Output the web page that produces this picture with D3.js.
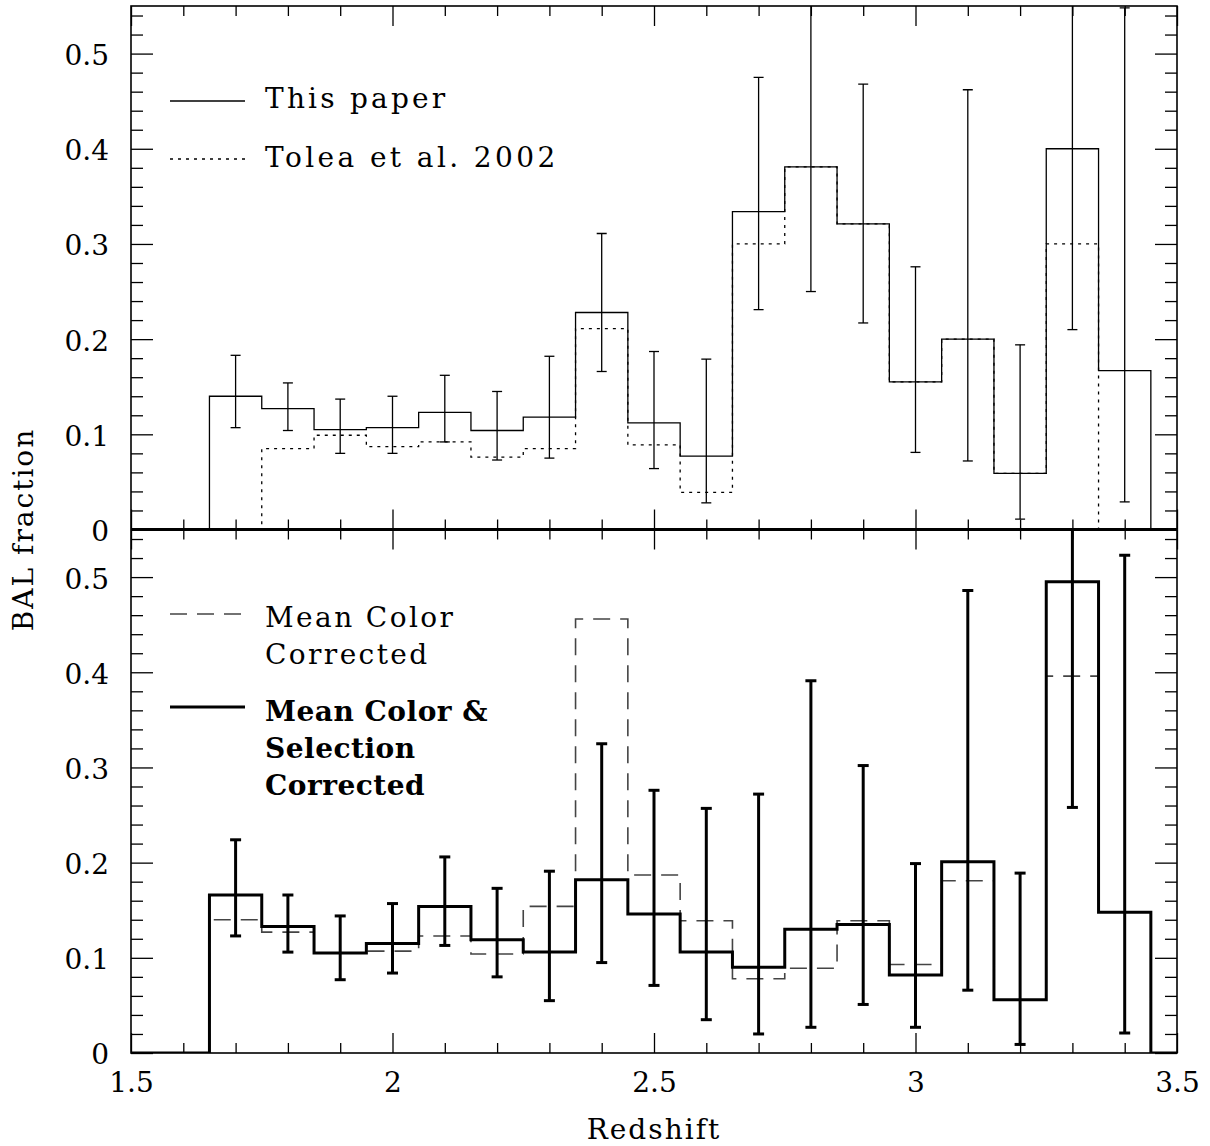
<!DOCTYPE html>
<html>
<head>
<meta charset="utf-8">
<script src="https://cdn.jsdelivr.net/npm/d3@7"></script>
<style>
  body { margin: 0; background: #fff; }
  svg { display: block; }
  text { font-family: "DejaVu Serif", serif; fill: #000; }
</style>
</head>
<body>
<div id="chart"></div>
<script>
// redshift bins (centres), width 0.1
const binCenters = [1.7, 1.8, 1.9, 2.0, 2.1, 2.2, 2.3, 2.4, 2.5, 2.6, 2.7, 2.8, 2.9, 3.0, 3.1, 3.2, 3.3, 3.4];

// top panel
const thisPaper   = [0.140, 0.127, 0.105, 0.107, 0.123, 0.104, 0.118, 0.228, 0.112, 0.077, 0.334, 0.381, 0.321, 0.155, 0.200, 0.059, 0.400, 0.167];
const thisPaperLo = [0.107, 0.104, 0.080, 0.080, 0.092, 0.073, 0.075, 0.166, 0.064, 0.028, 0.231, 0.250, 0.217, 0.081, 0.072, 0.011, 0.210, 0.029];
const thisPaperHi = [0.183, 0.154, 0.137, 0.140, 0.162, 0.145, 0.182, 0.311, 0.187, 0.179, 0.475, 0.600, 0.468, 0.276, 0.462, 0.194, 0.600, 0.548];
const tolea       = [0.000, 0.085, 0.099, 0.087, 0.092, 0.076, 0.085, 0.211, 0.089, 0.039, 0.300, 0.381, 0.321, 0.155, 0.200, 0.059, 0.300, 0.000];

// bottom panel
const meanColor  = [0.140, 0.127, 0.105, 0.107, 0.123, 0.104, 0.154, 0.456, 0.187, 0.139, 0.078, 0.089, 0.139, 0.093, 0.181, 0.056, 0.396, 0.148];
const colorSel   = [0.166, 0.133, 0.105, 0.115, 0.154, 0.119, 0.106, 0.182, 0.146, 0.106, 0.090, 0.130, 0.135, 0.082, 0.201, 0.056, 0.495, 0.148];
const colorSelLo = [0.123, 0.106, 0.077, 0.084, 0.113, 0.080, 0.055, 0.095, 0.071, 0.035, 0.020, 0.027, 0.051, 0.027, 0.066, 0.009, 0.258, 0.021];
const colorSelHi = [0.224, 0.166, 0.144, 0.157, 0.206, 0.173, 0.191, 0.325, 0.276, 0.257, 0.272, 0.391, 0.302, 0.199, 0.486, 0.189, 0.600, 0.523];

const xTicks = [1.5, 2, 2.5, 3, 3.5];
const yTicks = [0, 0.1, 0.2, 0.3, 0.4, 0.5];

const width = 1210;
const height = 1146;
const left = 131, right = 1177;
const panelTop = 6, panelMid = 529.5, panelBottom = 1053;

const svg = d3.select("#chart").append("svg")
    .attr("width", width)
    .attr("height", height);

const x = d3.scaleLinear().domain([1.5, 3.5]).range([left, right]);
const yTop = d3.scaleLinear().domain([0, 0.55]).range([panelMid, panelTop]);
const yBot = d3.scaleLinear().domain([0, 0.55]).range([panelBottom, panelMid]);

const xMinor = d3.range(15, 36).map(d => d / 10).filter(d => !xTicks.includes(d));
const yMinor = d3.range(0, 28).map(d => +(d * 0.02).toFixed(2)).filter(d => !yTicks.some(t => Math.abs(t - d) < 1e-6));

function clipFor(id, y) {
    svg.append("clipPath").attr("id", id)
        .append("rect")
        .attr("x", left).attr("y", y.range()[1])
        .attr("width", right - left).attr("height", y.range()[0] - y.range()[1]);
}
clipFor("clipTop", yTop);
clipFor("clipBot", yBot);

function histPath(y, values) {
    const pts = [[1.5, 0], [1.6, 0]].concat(binCenters.map((c, i) => [c, values[i]])).concat([[3.5, 0]]);
    return d3.line().x(d => x(d[0])).y(d => y(d[1])).curve(d3.curveStep)(pts);
}

function errorBars(g, y, lo, hi, cap, sw) {
    const eb = g.append("g").attr("stroke", "#000").attr("stroke-width", sw).attr("fill", "none");
    binCenters.forEach((c, i) => {
        eb.append("line").attr("x1", x(c)).attr("x2", x(c)).attr("y1", y(lo[i])).attr("y2", y(hi[i]));
        [lo[i], hi[i]].forEach(v => {
            eb.append("line").attr("x1", x(c) - cap).attr("x2", x(c) + cap).attr("y1", y(v)).attr("y2", y(v));
        });
    });
}

function styleAxis(sel) {
    sel.select(".domain").remove();
    sel.selectAll("line").attr("stroke", "#000").attr("stroke-width", 1.3);
    sel.selectAll("text").style("font-family", "DejaVu Serif, serif").style("font-size", "28px").attr("fill", "#000");
}

function drawAxes(y, showX) {
    const g = svg.append("g");
    // left
    g.append("g").attr("transform", `translate(${left},0)`)
        .call(d3.axisLeft(y).tickValues(yTicks).tickSize(-22).tickPadding(22).tickFormat(d => d === 0 ? "0" : d3.format(".1f")(d)))
        .call(styleAxis).selectAll("text").attr("dy", "0.39em");
    g.append("g").attr("transform", `translate(${left},0)`)
        .call(d3.axisLeft(y).tickValues(yMinor).tickSize(-12).tickFormat(""))
        .call(styleAxis);
    // right
    g.append("g").attr("transform", `translate(${right},0)`)
        .call(d3.axisRight(y).tickValues(yTicks).tickSize(-22).tickFormat(""))
        .call(styleAxis);
    g.append("g").attr("transform", `translate(${right},0)`)
        .call(d3.axisRight(y).tickValues(yMinor).tickSize(-12).tickFormat(""))
        .call(styleAxis);
    // top & bottom of the panel
    const yT = y.range()[1], yB = y.range()[0];
    g.append("g").attr("transform", `translate(0,${yT})`)
        .call(d3.axisTop(x).tickValues(xTicks).tickSize(-20).tickFormat(""))
        .call(styleAxis);
    g.append("g").attr("transform", `translate(0,${yT})`)
        .call(d3.axisTop(x).tickValues(xMinor).tickSize(-10).tickFormat(""))
        .call(styleAxis);
    g.append("g").attr("transform", `translate(0,${yB})`)
        .call(d3.axisBottom(x).tickValues(xTicks).tickSize(-20).tickPadding(19)
            .tickFormat(showX ? d3.format("") : ""))
        .call(styleAxis);
    g.append("g").attr("transform", `translate(0,${yB})`)
        .call(d3.axisBottom(x).tickValues(xMinor).tickSize(-10).tickFormat(""))
        .call(styleAxis);
}

// ---- top panel
const topPanel = svg.append("g").attr("clip-path", "url(#clipTop)");
topPanel.append("path").attr("d", histPath(yTop, tolea))
    .attr("fill", "none").attr("stroke", "#000").attr("stroke-width", 1.3).attr("stroke-dasharray", "3,5");
topPanel.append("path").attr("d", histPath(yTop, thisPaper))
    .attr("fill", "none").attr("stroke", "#000").attr("stroke-width", 1.3);
errorBars(topPanel, yTop, thisPaperLo, thisPaperHi, 5, 1.3);

// ---- bottom panel
const botPanel = svg.append("g").attr("clip-path", "url(#clipBot)");
botPanel.append("path").attr("d", histPath(yBot, meanColor))
    .attr("fill", "none").attr("stroke", "#444").attr("stroke-width", 1.6).attr("stroke-dasharray", "17,10");
botPanel.append("path").attr("d", histPath(yBot, colorSel))
    .attr("fill", "none").attr("stroke", "#000").attr("stroke-width", 3);
errorBars(botPanel, yBot, colorSelLo, colorSelHi, 5.5, 3);

drawAxes(yTop, false);
drawAxes(yBot, true);

// frames
svg.append("rect").attr("x", left).attr("y", panelTop).attr("width", right - left).attr("height", panelBottom - panelTop)
    .attr("fill", "none").attr("stroke", "#000").attr("stroke-width", 1.6);
svg.append("line").attr("x1", left).attr("x2", right).attr("y1", panelMid).attr("y2", panelMid)
    .attr("stroke", "#000").attr("stroke-width", 3);

// legends
const legend = svg.append("g");
function legendLine(y, dash, sw, color) {
    legend.append("line").attr("x1", 170).attr("x2", 245).attr("y1", y).attr("y2", y)
        .attr("stroke", color).attr("stroke-width", sw).attr("stroke-dasharray", dash);
}
function legendText(lines, y0, bold, spacing) {
    lines.forEach((t, i) => {
        legend.append("text").attr("x", 265).attr("y", y0 + i * 37)
            .style("font-size", "28px")
            .style("font-weight", bold ? "bold" : "normal")
            .style("letter-spacing", spacing + "px")
            .text(t);
    });
}
legendLine(101, null, 1.3, "#000");
legendText(["This paper"], 108, false, 3.2);
legendLine(159, "3,5", 1.3, "#000");
legendText(["Tolea et al. 2002"], 167, false, 3.4);
legendLine(614, "17,10", 1.6, "#444");
legendText(["Mean Color", "Corrected"], 627, false, 2.4);
legendLine(707, null, 3, "#000");
legendText(["Mean Color &", "Selection", "Corrected"], 721, true, 0.5);

// axis titles
svg.append("text").attr("x", (left + right) / 2).attr("y", 1139)
    .attr("text-anchor", "middle").style("font-size", "28px").style("letter-spacing", "2px")
    .text("Redshift");
svg.append("text").attr("transform", `translate(33,${panelMid}) rotate(-90)`)
    .attr("text-anchor", "middle").style("font-size", "28px").style("letter-spacing", "2px")
    .text("BAL fraction");
</script>
</body>
</html>
